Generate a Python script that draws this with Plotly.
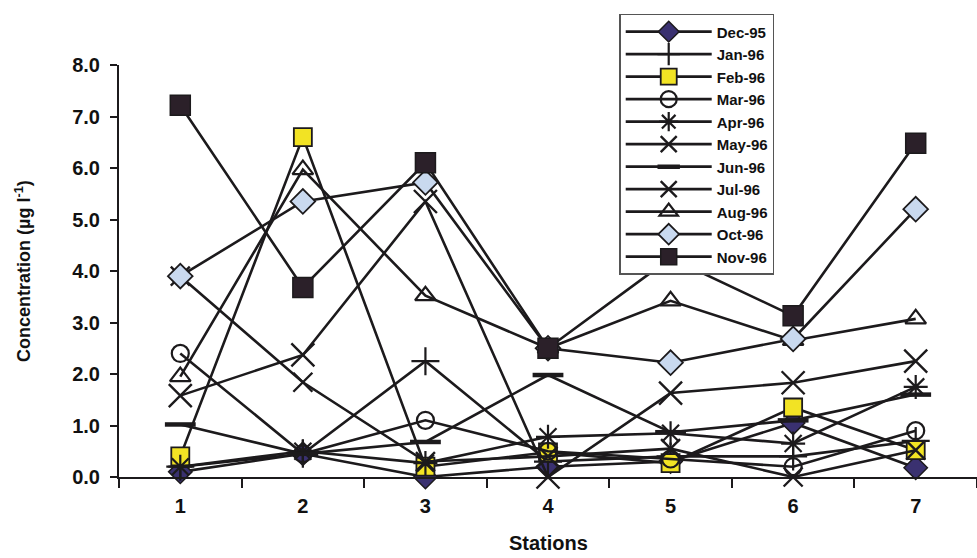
import plotly.graph_objects as go

# Stations along the x axis
stations = [1, 2, 3, 4, 5, 6, 7]

# Concentration (µg l-1) per sampling month
dec95 = [0.10, 0.45, 0.00, 0.20, 0.30, 1.05, 0.18]
jan96 = [0.20, 0.45, 2.25, 0.30, 0.40, 0.40, 0.70]
feb96 = [0.40, 6.60, 0.20, 0.48, 0.27, 1.35, 0.52]
mar96 = [2.40, 0.45, 1.10, 0.50, 0.35, 0.20, 0.90]
apr96 = [0.20, 0.50, 0.27, 0.78, 0.85, 0.65, 1.75]
may96 = [3.90, 1.84, 0.30, 0.40, 0.55, 0.00, 0.52]
jun96 = [1.02, 0.45, 0.68, 1.98, 0.87, 1.10, 1.60]
jul96 = [1.58, 2.37, 5.35, 0.00, 1.63, 1.83, 2.25]
aug96 = [1.95, 5.97, 3.52, 2.50, 3.42, 2.65, 3.07]
oct96 = [3.90, 5.35, 5.72, 2.50, 2.22, 2.68, 5.20]
nov96 = [7.22, 3.68, 6.10, 2.50, 4.25, 3.13, 6.48]

months = ["Dec-95", "Jan-96", "Feb-96", "Mar-96", "Apr-96", "May-96",
          "Jun-96", "Jul-96", "Aug-96", "Oct-96", "Nov-96"]
values = [dec95, jan96, feb96, mar96, apr96, may96,
          jun96, jul96, aug96, oct96, nov96]

LINE = "#1c1a1c"
# (symbol, size, fill colour, outline width)
styles = [
    ("diamond", 18, "#3a3170", 1.5),
    ("cross-thin-open", 20, None, 2.2),
    ("square", 18, "#f2e324", 1.8),
    ("circle-open", 17, None, 2.2),
    ("asterisk-open", 20, None, 2.2),
    ("x-thin-open", 19, None, 2.4),
    ("line-ew-open", 22, None, 4.5),
    ("x-thin-open", 23, None, 2.4),
    ("triangle-up-open", 18, None, 2.2),
    ("diamond", 19, "#c9d9ef", 1.8),
    ("square", 20, "#2b2029", 1.5),
]

fig = go.Figure()
for name, ys, (sym, size, fill, lw) in zip(months, values, styles):
    marker = dict(symbol=sym, size=size,
                  line=dict(color=LINE, width=lw))
    marker["color"] = fill if fill is not None else LINE
    fig.add_trace(go.Scatter(
        x=stations, y=ys, name=name, mode="lines+markers",
        line=dict(color=LINE, width=2.6),
        marker=marker, cliponaxis=False,
    ))

FONT = "Liberation Sans"
INK = "#111111"

fig.update_layout(
    width=977, height=558,
    margin=dict(l=119, r=0, t=65, b=81),
    paper_bgcolor="white", plot_bgcolor="white",
    showlegend=True,
    legend=dict(
        x=0.583, y=1.124, xanchor="left", yanchor="top",
        bgcolor="white", bordercolor="#555555", borderwidth=1.5,
        font=dict(family=FONT, size=15, color=INK, weight="bold"),
        tracegroupgap=0, itemwidth=86,
    ),
    xaxis=dict(
        range=[0.5, 7.5], tickvals=stations,
        ticktext=[str(s) for s in stations],
        ticks="", showgrid=False, zeroline=False,
        showline=True, linecolor=LINE, linewidth=2,
        tickfont=dict(family=FONT, size=20, color=INK, weight="bold"),
        ticklabelstandoff=10,
        minor=dict(ticks="outside", tick0=0.5, dtick=1, ticklen=9,
                   tickwidth=2, tickcolor=LINE, showgrid=False),
    ),
    yaxis=dict(
        range=[0, 8], tickvals=[0, 1, 2, 3, 4, 5, 6, 7, 8],
        tickformat=".1f", ticks="outside", ticklen=7, tickwidth=2,
        tickcolor=LINE, showgrid=False, zeroline=False,
        showline=True, linecolor=LINE, linewidth=2,
        tickfont=dict(family=FONT, size=20, color=INK, weight="bold"),
        ticklabelstandoff=6,
    ),
    annotations=[
        dict(text="Concentration (µg l<sup>-1</sup>)", textangle=-90,
             xref="paper", yref="paper", x=-0.112, y=0.5,
             xanchor="center", yanchor="middle", showarrow=False,
             font=dict(family=FONT, size=18, color=INK, weight="bold")),
        dict(text="Stations", xref="paper", yref="paper", x=0.5, y=-0.16,
             xanchor="center", yanchor="middle", showarrow=False,
             font=dict(family=FONT, size=20, color=INK, weight="bold")),
    ],
)

fig.write_html("out.html")
